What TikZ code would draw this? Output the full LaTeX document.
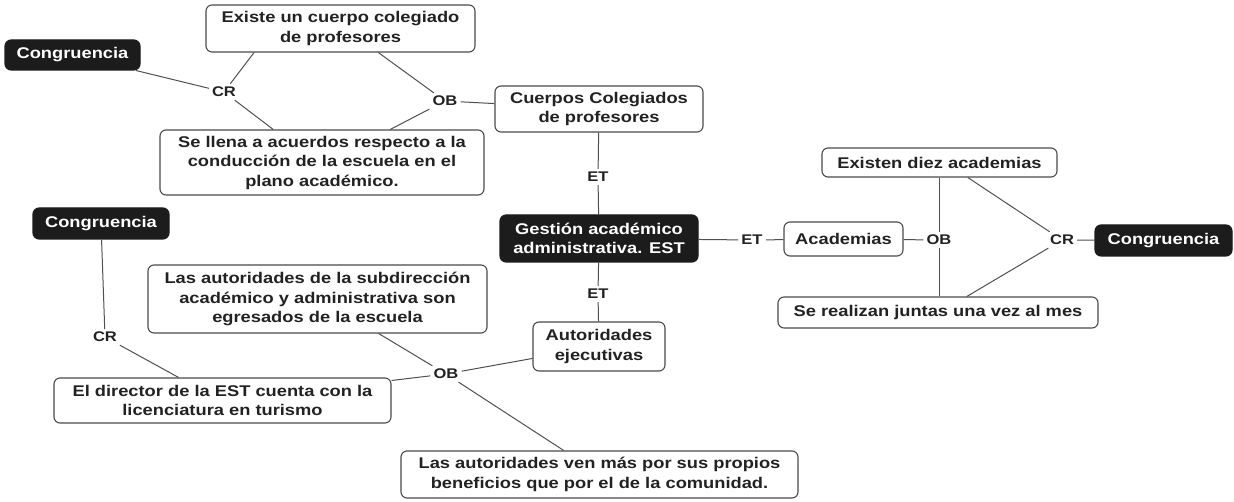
\documentclass[tikz,border=0pt]{standalone}
\usepackage{fontspec}
\setmainfont{Liberation Sans}[FakeStretch=1.18]
\usetikzlibrary{calc}
\definecolor{boxline}{HTML}{4A4A4A}
\definecolor{linec}{HTML}{505050}
\definecolor{darkbox}{HTML}{1C1C1C}
\definecolor{textc}{HTML}{222222}
\begin{document}
\begin{tikzpicture}[x=1pt,y=-1pt,
  box/.style={draw=boxline, line width=1.1pt, rounded corners=6pt, fill=white, align=center,
    font=\bfseries\fontsize{15.5}{19.5}\selectfont, text=textc, inner sep=0pt},
  dark/.style={box, fill=darkbox, draw=darkbox, text=white},
  lab/.style={font=\bfseries\fontsize{14}{16}\selectfont, inner sep=3pt, text=textc},
  link/.style={draw=linec, line width=1pt}]
\useasboundingbox[fill=white] (0,0) rectangle (1234,502);

% boxes
\node[dark, minimum width=135, minimum height=30] (cg1) at (72.5,55) {Congruencia};
\node[box, minimum width=269, minimum height=47] (e1) at (340.5,28.5) {Existe un cuerpo colegiado\\de profesores};
\node[box, minimum width=208, minimum height=46] (cc) at (599,109) {Cuerpos Colegiados\\de profesores};
\node[box, minimum width=324, minimum height=65] (sl) at (322,162.5) {Se llena a acuerdos respecto a la\\conducción de la escuela en el\\plano académico.};
\node[dark, minimum width=198, minimum height=47] (ga) at (599,238.5) {Gestión académico\\administrativa. EST};
\node[box, minimum width=119, minimum height=34] (ac) at (843.5,239) {Academias};
\node[box, minimum width=235, minimum height=29] (ex) at (939.5,162.5) {Existen diez academias};
\node[dark, minimum width=137, minimum height=31] (cg2) at (1163.5,240.5) {Congruencia};
\node[box, minimum width=320, minimum height=31] (sr) at (938,312.5) {Se realizan juntas una vez al mes};
\node[box, minimum width=132, minimum height=49] (au) at (599,346.5) {Autoridades\\ejecutivas};
\node[dark, minimum width=136, minimum height=31] (cg3) at (101,223.5) {Congruencia};
\node[box, minimum width=339, minimum height=68] (sd) at (317.5,299) {Las autoridades de la subdirección\\académico y administrativa son\\egresados de la escuela};
\node[box, minimum width=337, minimum height=45] (ed) at (222.5,400.5) {El director de la EST cuenta con la\\licenciatura en turismo};
\node[box, minimum width=397, minimum height=47] (vm) at (599.5,474.5) {Las autoridades ven más por sus propios\\beneficios que por el de la comunidad.};

% labels
\node[lab] (cr1) at (224,92) {CR};
\node[lab] (ob1) at (445,101) {OB};
\node[lab] (et1) at (598,177) {ET};
\node[lab] (et2) at (752,240) {ET};
\node[lab] (ob2) at (939,240) {OB};
\node[lab] (cr2) at (1062,240) {CR};
\node[lab] (et3) at (598,294) {ET};
\node[lab] (cr3) at (105,337) {CR};
\node[lab] (ob3) at (446,374) {OB};

% connectors
\draw[link] (cg1) -- (cr1);
\draw[link] (cr1) -- ($(e1.south west)!0.18!(e1.south east)$);
\draw[link] (cr1) -- ($(sl.north west)!0.35!(sl.north east)$);
\draw[link] ($(e1.south west)!0.64!(e1.south east)$) -- (ob1);
\draw[link] (ob1) -- ($(sl.north west)!0.71!(sl.north east)$);
\draw[link] (ob1) -- (cc);
\draw[link] (cc) -- (et1);
\draw[link] (et1) -- (ga);
\draw[link] (ga) -- (et2);
\draw[link] (et2) -- (ac);
\draw[link] (ac) -- (ob2);
\draw[link] (ob2) -- (ex.south -| ob2);
\draw[link] (ob2) -- (sr.north -| ob2);
\draw[link] ($(ex.south west)!0.62!(ex.south east)$) -- (cr2);
\draw[link] (cr2) -- ($(sr.north west)!0.59!(sr.north east)$);
\draw[link] (cr2) -- (cg2);
\draw[link] (ga) -- (et3);
\draw[link] (et3) -- (au);
\draw[link] (cg3) -- (cr3);
\draw[link] (cr3) -- ($(ed.north west)!0.37!(ed.north east)$);
\draw[link] ($(sd.south west)!0.68!(sd.south east)$) -- (ob3);
\draw[link] (ob3) -- (au);
\draw[link] (ob3) -- (ed);
\draw[link] (ob3) -- ($(vm.north west)!0.41!(vm.north east)$);
\end{tikzpicture}
\end{document}
